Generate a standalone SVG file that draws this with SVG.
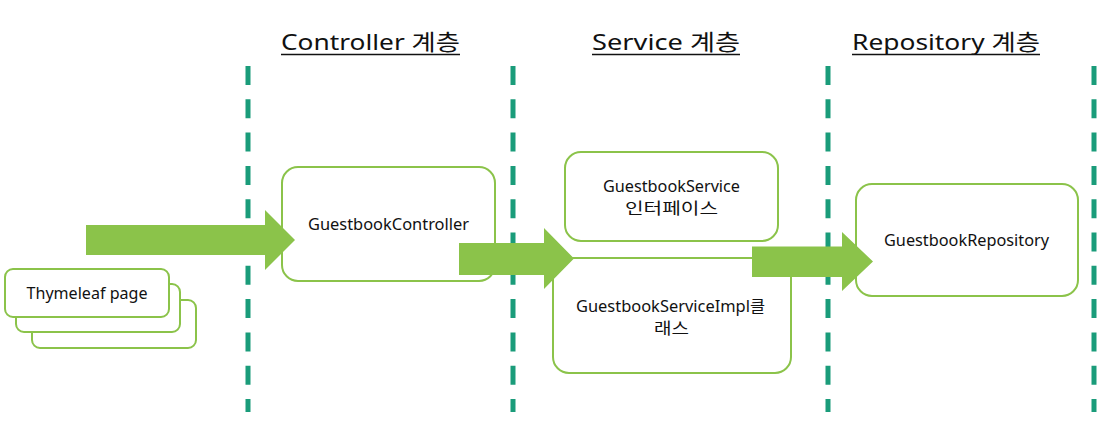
<svg xmlns="http://www.w3.org/2000/svg" width="1109" height="447" viewBox="0 0 1109 447">
<style>
.bg{fill:#ffffff}
.sep{stroke:#1a9c7a;stroke-width:5;stroke-dasharray:19 14.3;fill:none}
.box{fill:#ffffff;stroke:#8bc34a;stroke-width:2}
.arrow{fill:#8bc34a;stroke:none}
.t{font-family:"Segoe UI","Noto Sans","Noto Sans CJK KR",sans-serif;font-size:15.5px;fill:#111111;text-anchor:middle}
.h{font-family:"Segoe UI","Noto Sans","Noto Sans CJK KR",sans-serif;font-size:22px;fill:#111111;text-anchor:middle}
.ul{stroke:#111111;stroke-width:1.6}
</style>
<rect class="bg" x="0" y="0" width="1109" height="447"/>
<g id="headings">
<text class="h" x="370.5" y="50" textLength="179" lengthAdjust="spacingAndGlyphs">Controller 계층</text>
<line class="ul" x1="281" y1="54.5" x2="460" y2="54.5"/>
<text class="h" x="666" y="50" textLength="148" lengthAdjust="spacingAndGlyphs">Service 계층</text>
<line class="ul" x1="592" y1="54.5" x2="740" y2="54.5"/>
<text class="h" x="946" y="50" textLength="188" lengthAdjust="spacingAndGlyphs">Repository 계층</text>
<line class="ul" x1="852" y1="54.5" x2="1040" y2="54.5"/>
</g>
<g id="separators">
<line class="sep" x1="248" y1="66" x2="248" y2="412"/>
<line class="sep" x1="513" y1="66" x2="513" y2="412"/>
<line class="sep" x1="828" y1="66" x2="828" y2="412"/>
<line class="sep" x1="1094" y1="66" x2="1094" y2="412"/>
</g>
<g id="thymeleaf-stack">
<rect class="box" x="32" y="300" width="164" height="48" rx="8"/>
<text class="t" x="114" y="329" textLength="121" lengthAdjust="spacingAndGlyphs">Thymeleaf page</text>
<rect class="box" x="16" y="284" width="164" height="48" rx="8"/>
<rect class="box" x="5" y="269" width="164" height="48" rx="8"/>
<text class="t" x="87" y="299" textLength="121" lengthAdjust="spacingAndGlyphs">Thymeleaf page</text>
</g>
<g id="controller">
<rect class="box" x="282" y="167" width="213" height="114" rx="16"/>
<text class="t" x="388.5" y="230" textLength="161" lengthAdjust="spacingAndGlyphs">GuestbookController</text>
</g>
<g id="service-interface">
<rect class="box" x="565" y="152" width="213" height="89" rx="16"/>
<text class="t" x="671.5" y="192" textLength="137" lengthAdjust="spacingAndGlyphs">GuestbookService</text>
<text class="t" x="671.5" y="214" textLength="93" lengthAdjust="spacingAndGlyphs">인터페이스</text>
</g>
<g id="service-impl">
<rect class="box" x="553" y="258" width="238" height="115" rx="16"/>
<text class="t" x="670.5" y="312" textLength="189" lengthAdjust="spacingAndGlyphs">GuestbookServiceImpl클</text>
<text class="t" x="671.5" y="334" textLength="35" lengthAdjust="spacingAndGlyphs">래스</text>
</g>
<g id="repository">
<rect class="box" x="856" y="184" width="222" height="112" rx="16"/>
<text class="t" x="966.5" y="246" textLength="165" lengthAdjust="spacingAndGlyphs">GuestbookRepository</text>
</g>
<g id="connectors">
<polygon class="arrow" points="86,225 265,225 265,210 295,240 265,270 265,255 86,255"/>
<polygon class="arrow" points="459,243 544,243 544,228 574,258.5 544,289 544,275 459,275"/>
<polygon class="arrow" points="752,246.5 842,246.5 842,232 873,261.5 842,291 842,277 752,277"/>
</g>
</svg>
